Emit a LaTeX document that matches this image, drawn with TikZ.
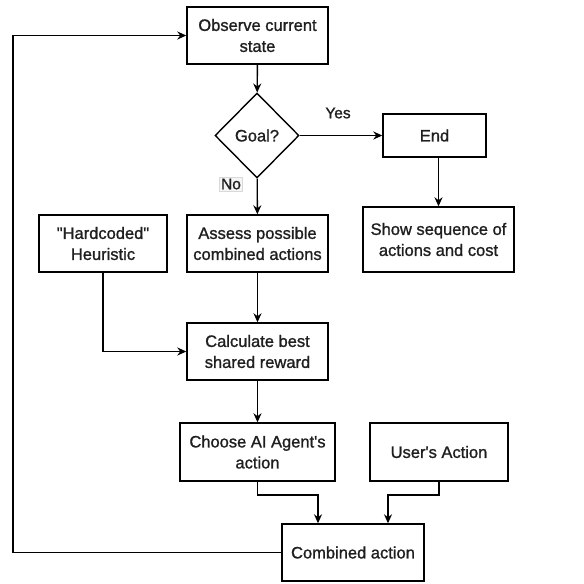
\documentclass[tikz,border=0pt]{standalone}
\usepackage{fontspec}
% regular Liberation Sans glyphs, slightly thickened for the bold series
\setmainfont{Liberation Sans}[BoldFont={Liberation Sans}, BoldFeatures={FakeBold=1.2}]
\usetikzlibrary{shapes.geometric,arrows.meta}
\begin{document}
\begin{tikzpicture}[x=1pt,y=-1pt,
  every node/.style={font=\fontsize{16.5}{21}\selectfont\bfseries, text=black!88, align=center, inner sep=0pt},
  box/.style={draw=black, line width=1.4pt, rectangle},
  cond/.style={draw=black, line width=1.4pt, diamond, minimum width=84pt, minimum height=85pt},
  flow/.style={draw, line width=1.4pt, -{Stealth[length=9pt,width=8pt]}},
  tag/.style={font=\fontsize{15.5}{18}\selectfont\bfseries}
]
\useasboundingbox (0,0) rectangle (584,584);

% process steps
\node[box, minimum width=141pt, minimum height=57pt] (obs) at (257.5,35.5) {Observe current\\state};
\node[cond] (goal) at (257,135.5) {Goal?};
\node[box, minimum width=103pt, minimum height=43pt] (end) at (434.5,135.5) {End};
\node[box, minimum width=151pt, minimum height=65pt] (show) at (438.5,239.5) {Show sequence of\\actions and cost};
\node[box, minimum width=128pt, minimum height=57pt] (heur) at (103,243.5) {\textquotedbl Hardcoded\textquotedbl\\Heuristic};
\node[box, minimum width=141pt, minimum height=57pt] (assess) at (257.5,243.5) {Assess possible\\combined actions};
\node[box, minimum width=141pt, minimum height=57pt] (calc) at (257.5,351.5) {Calculate best\\shared reward};
\node[box, minimum width=155pt, minimum height=58pt] (choose) at (257.5,452) {Choose AI Agent\textquotesingle s\\action};
\node[box, minimum width=138pt, minimum height=58pt] (user) at (439,452) {User\textquotesingle s Action};
\node[box, minimum width=142pt, minimum height=57pt] (comb) at (353,552.5) {Combined action};

% branch labels
\node[tag] (yes) at (338,113) {Yes};
\node[tag, fill=gray!8, draw=gray!30, line width=0.6pt, inner sep=1.5pt] (no) at (231,184) {No};

% routing points
\coordinate (cjoin) at (257.5,495);
\coordinate (cin) at (318,495);
\coordinate (ujoin) at (439,495);
\coordinate (uin) at (388,495);
\coordinate (loop) at (13,552.5);

% connectors
\draw[flow] (obs) -- (goal);
\draw[flow] (goal) -- (end);
\draw[flow] (goal) -- (assess);
\draw[flow] (show.north |- end.south) -- (show.north);
\draw[flow] (assess) -- (calc);
\draw[flow] (heur.south) |- (calc.west);
\draw[flow] (calc) -- (choose);
\draw[flow] (choose.south) -- (cjoin) -- (cin) -- (cin |- comb.north);
\draw[flow] (user.south) -- (ujoin) -- (uin) -- (uin |- comb.north);
\draw[flow] (comb.west) -- (loop) |- (obs.west);
\end{tikzpicture}
\end{document}
